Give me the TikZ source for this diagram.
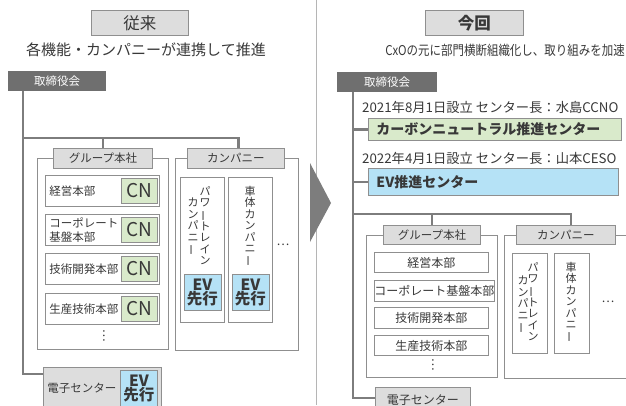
\documentclass[tikz,border=0pt]{standalone}
\usepackage{fontspec}
\setmainfont{Noto Sans CJK JP}
\usetikzlibrary{positioning}
\definecolor{txtc}{HTML}{383838}
\definecolor{rulec}{HTML}{8F8F8F}
\definecolor{hdrfill}{HTML}{DDDDDD}
\definecolor{boardc}{HTML}{6F6F6F}
\definecolor{trunkc}{HTML}{7D7D7D}
\definecolor{divc}{HTML}{B5B5B5}
\definecolor{cngreen}{HTML}{D9EACB}
\definecolor{evblue}{HTML}{B5E2F6}
\newcommand\fs[2]{\fontsize{#1bp}{#2bp}\selectfont}
\newcommand\vbar{\rotatebox[origin=c]{90}{ー}}
\newcommand\vdotsjp{\rotatebox[origin=c]{90}{…}}

\begin{document}
\begin{tikzpicture}[x=1bp,y=-1bp,
  box/.style={draw=rulec, line width=0.9bp, inner sep=0pt, anchor=north west, text=txtc},
  hdr/.style={box, fill=hdrfill, minimum height=25bp, font=\fs{16.5}{18}},
  lbl/.style={box, fill=hdrfill, font=\fs{11.5}{13}},
  board/.style={inner sep=0pt, anchor=north west, fill=boardc, text=white, minimum height=20bp, font=\fs{11.5}{13}},
  frame/.style={box, fill=white},
  deptL/.style={box, fill=white, minimum height=31bp, text width=106bp, inner xsep=4bp, align=left, font=\fs{11.5}{14}},
  deptR/.style={box, fill=white, minimum width=114bp, font=\fs{12}{14}},
  cn/.style={box, fill=cngreen, minimum width=36bp, minimum height=25bp, font=\fs{19}{20}},
  ev/.style={box, fill=evblue, minimum width=37bp, minimum height=36bp, align=center, font=\bfseries\fs{15.5}{14.5}},
  ctr/.style={box, inner xsep=8bp, align=left, font=\bfseries\fs{14}{16}},
  vtxt/.style={inner sep=0pt, anchor=north, align=center, text=txtc, font=\fs{11}{11.4}},
  note/.style={inner sep=0pt, text=txtc},
  trunk/.style={draw=trunkc, line width=2.2bp}]
\useasboundingbox (0,0) rectangle (626,405);
\clip (0,0) rectangle (626,405);

% divider and arrow
\draw[draw=divc, line width=1bp] (316,0) -- (316,405);
\fill[trunkc] (310,163) -- (331,203) -- (310,242) -- cycle;

%%%%% left: before %%%%%
\node[hdr, minimum width=97bp] (titleL) at (91,10) {従来};
\node[note, font=\fs{15}{17}] (subL) at (146,50) {各機能・カンパニーが連携して推進};
\node[board, minimum width=98bp] (boardL) at (8,71) {取締役会};

\node[frame, minimum width=131bp, minimum height=191bp] (groupLf) at (37,158) {};
\node[frame, minimum width=123bp, minimum height=192bp] (compLf) at (175,158) {};
\node[lbl, minimum width=99bp, minimum height=20bp] (groupLlab) at (53,148) {グループ本社};
\node[lbl, minimum width=97bp, minimum height=20bp] (compLlab) at (187,148) {カンパニー};

\node[deptL] (keieiL) at (45,175) {経営本部};
\node[deptL] (corpL) at (45,214) {コーポレート\\基盤本部};
\node[deptL] (gikaiL) at (45,253) {技術開発本部};
\node[deptL] (seisanL) at (45,293) {生産技術本部};
\node[cn, left=2bp of keieiL.east] (cnA) {CN};
\node[cn, left=2bp of corpL.east] (cnB) {CN};
\node[cn, left=2bp of gikaiL.east] (cnC) {CN};
\node[cn, left=2bp of seisanL.east] (cnD) {CN};
\node[note, font=\fs{12}{12}] (dotsL) at (104,336) {\vdotsjp};

\node[frame, minimum width=44bp, minimum height=145bp] (ptL) at (180,177) {};
\node[frame, minimum width=44bp, minimum height=145bp] (bodyL) at (228,177) {};
\node[vtxt] (ptLa) at (205,186) {パ\\ワ\\\vbar\\ト\\レ\\イ\\ン};
\node[vtxt] (ptLb) at (193,198) {カ\\ン\\パ\\ニ\\\vbar};
\node[vtxt] (bodyLa) at (250,186) {車\\体\\カ\\ン\\パ\\ニ\\\vbar};
\node[ev, above=12bp of ptL.south] (evA) {EV\\先行};
\node[ev, above=12bp of bodyL.south] (evB) {EV\\先行};
\node[note, font=\fs{12}{12}] (moreL) at (283,245) {…};

\node[box, fill=hdrfill, minimum height=42bp, text width=110bp, inner xsep=4bp, align=left, font=\fs{11.5}{13}] (denshiL) at (43,367) {電子センター};
\node[ev] (evD) at (120,370) {EV\\先行};

\coordinate (trunkL) at (23,91);
\coordinate (busL) at (23,138);
\draw[trunk] (trunkL) |- ([yshift=-7bp]denshiL.north west);
\draw[trunk] (busL) -| ([xshift=2.5bp]compLlab.north);
\draw[trunk] (busL -| groupLlab.north) -- (groupLlab.north);

%%%%% right: now %%%%%
\node[hdr, font=\bfseries\fs{16.5}{18}, minimum width=98bp] (titleR) at (425,10) {今回};
\node[note, font=\fs{13.5}{15}] (subR) at (505,50) {\scalebox{0.85}[1]{CxOの元に部門横断組織化し、取り組みを加速}};
\node[board, minimum width=100bp] (boardR) at (337,72) {取締役会};

\node[note, anchor=west, font=\fs{13.3}{15}] (dateA) at (362,107) {2021年8月1日設立 センター長：水島CCNO};
\node[ctr, fill=cngreen, minimum height=22bp, text width=237bp] (cnCtr) at (368,118) {カーボンニュートラル推進センター};
\node[note, anchor=west, font=\fs{13.3}{15}] (dateB) at (362,158) {2022年4月1日設立 センター長：山本CESO};
\node[ctr, fill=evblue, minimum height=27bp, text width=234bp] (evCtr) at (368,168) {EV推進センター};

\node[frame, minimum width=131bp, minimum height=142bp] (groupRf) at (366,235) {};
\node[frame, minimum width=140bp, minimum height=143bp] (compRf) at (504,235) {};
\node[lbl, minimum width=97bp, minimum height=19bp] (groupRlab) at (383,225) {グループ本社};
\node[lbl, minimum width=99bp, minimum height=19bp] (compRlab) at (516,225) {カンパニー};

\node[deptR, minimum height=20bp] (keieiR) at (374,252) {経営本部};
\node[deptR, minimum height=21bp] (corpR) at (374,280) {コーポレート基盤本部};
\node[deptR, minimum height=21bp] (gikaiR) at (374,307) {技術開発本部};
\node[deptR, minimum height=20bp] (seisanR) at (374,335) {生産技術本部};
\node[note, font=\fs{12}{12}] (dotsR) at (433,365) {\vdotsjp};

\node[frame, minimum width=35bp, minimum height=100bp] (ptR) at (512,253) {};
\node[frame, minimum width=35bp, minimum height=100bp] (bodyR) at (554,253) {};
\node[vtxt] (ptRa) at (533,262) {パ\\ワ\\\vbar\\ト\\レ\\イ\\ン};
\node[vtxt] (ptRb) at (523,276) {カ\\ン\\パ\\ニ\\\vbar};
\node[vtxt] (bodyRa) at (571,262) {車\\体\\カ\\ン\\パ\\ニ\\\vbar};
\node[note, font=\fs{12}{12}] (moreR) at (608,302) {…};

\node[box, fill=hdrfill, minimum width=95bp, minimum height=25bp, font=\fs{12}{14}] (denshiR) at (375,387) {電子センター};

\coordinate (trunkR) at (353,92);
\coordinate (busR) at (353,214);
\draw[trunk] (trunkR) |- ([yshift=-11bp]denshiR.north west);
\draw[trunk] (trunkR |- cnCtr.west) -- (cnCtr.west);
\draw[trunk] (trunkR |- evCtr.west) -- (evCtr.west);
\draw[trunk] (busR) -| ([xshift=5bp]compRlab.north);
\draw[trunk] (busR -| groupRlab.north) -- (groupRlab.north);
\end{tikzpicture}
\end{document}
